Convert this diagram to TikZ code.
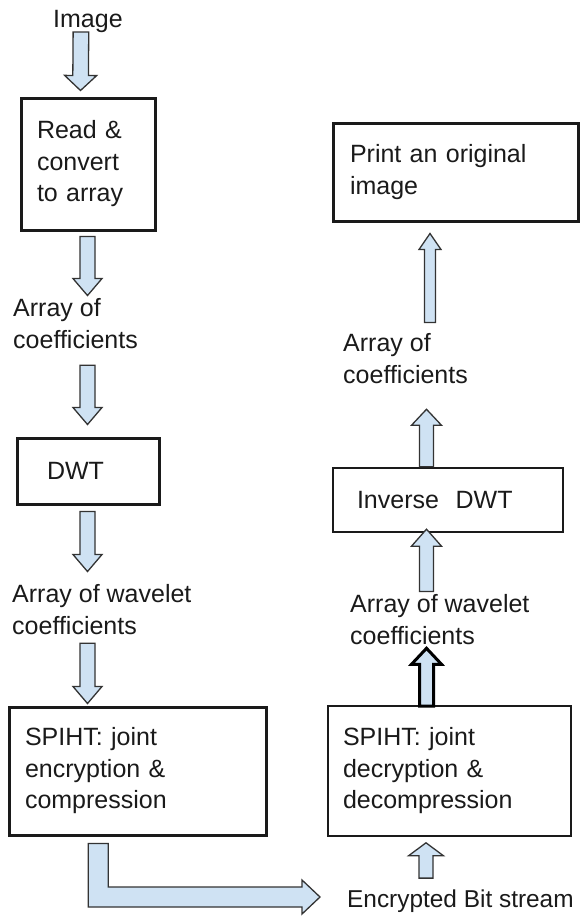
\documentclass[tikz,border=0pt]{standalone}
\usepackage{fontspec}
\setmainfont{Liberation Sans}
\usetikzlibrary{calc}
\definecolor{arrowfill}{HTML}{CFE2F3}
\definecolor{ink}{HTML}{1A1A1A}
\definecolor{arrowline}{HTML}{333333}
% block arrow: [style]{start}{tip}{shaft half width}{head half width}{head length}
\newcommand{\blockarrow}[6][]{%
  \coordinate (ba-h) at ($(#3)!#6!(#2)$);
  \draw[barrow,#1] ($(#2)!#4!90:(#3)$) -- ($(ba-h)!#4!90:(#3)$) -- ($(ba-h)!#5!90:(#3)$)
    -- (#3) -- ($(ba-h)!#5!-90:(#3)$) -- ($(ba-h)!#4!-90:(#3)$) -- ($(#2)!#4!-90:(#3)$) -- cycle;}
\begin{document}
\begin{tikzpicture}[x=1pt,y=-1pt,
  txt/.style={inner sep=0pt, font=\fontsize{25}{32}\selectfont, text=ink, align=left},
  box/.style={draw=ink, line width=3pt, rectangle, inner ysep=0pt, align=left,
              font=\fontsize{25}{31.5}\selectfont, text=ink},
  barrow/.style={draw=arrowline, fill=arrowfill, line width=1.3pt, line join=miter}]
\useasboundingbox (0,0) rectangle (579,916);

% boxes
\node[box, minimum width=134pt, minimum height=132pt, text width=102pt, inner xsep=16pt] (b1) at (88,164) {Read \&\\convert\\to array};
\node[box, minimum width=142pt, minimum height=66pt, text width=82pt, inner xsep=30pt] (dwt) at (88,471) {DWT};
\node[box, minimum width=257pt, minimum height=128pt, text width=225pt, inner xsep=16pt] (spL) at (137.5,771) {SPIHT: joint\\encryption \&\\compression};
\node[box, minimum width=245pt, minimum height=98pt, text width=211pt, inner xsep=17pt] (print) at (455.5,172) {Print an original\\image};
\node[box, line width=2.4pt, minimum width=230pt, minimum height=64pt, text width=182pt, inner xsep=24pt] (idwt) at (448,500) {Inverse~~DWT};
\node[box, line width=1.6pt, minimum width=243pt, minimum height=130pt, text width=213pt, inner xsep=15pt] (spR) at (449.5,771) {SPIHT: joint\\decryption \&\\decompression};

% free texts
\node[txt, anchor=base west] (img) at (53,27) {Image};
\node[txt, anchor=west] (L1) at (13,323.9) {Array of\\coefficients};
\node[txt, anchor=west] (L2) at (12,609.9) {Array of wavelet\\coefficients};
\node[txt, anchor=west] (R1) at (343,358.9) {Array of\\coefficients};
\node[txt, anchor=west] (R2) at (350,619.9) {Array of wavelet\\coefficients};
\node[txt, anchor=base west, font=\fontsize{24.4}{30}\selectfont] (enc) at (347,907) {Encrypted Bit stream};

% left column arrows
\coordinate (a1s) at ($(img.base)+(-7,5)$);
\coordinate (a1e) at ($(b1.north)+(-7.5,-6)$);
\blockarrow{a1s}{a1e}{7.8pt}{16pt}{15pt}
\coordinate (a2s) at ($(b1.south)+(-0.5,5)$);
\coordinate (a2e) at ($(b1.south |- L1.north)+(-0.5,-3)$);
\blockarrow{a2s}{a2e}{7.5pt}{14.5pt}{17pt}
\coordinate (a3s) at ($(b1.south |- L1.south)+(-0.5,16)$);
\coordinate (a3e) at ($(dwt.north)+(-0.5,-12)$);
\blockarrow{a3s}{a3e}{7.5pt}{14.5pt}{17pt}
\coordinate (a4s) at ($(dwt.south)+(-0.5,6)$);
\coordinate (a4e) at ($(dwt.south |- L2.north)+(-0.5,-13)$);
\blockarrow{a4s}{a4e}{7.5pt}{14.5pt}{17pt}
\coordinate (a5s) at ($(dwt.south |- L2.south)+(-0.5,8)$);
\coordinate (a5e) at ($(dwt.south |- spL.north)+(-0.5,-2)$);
\blockarrow{a5s}{a5e}{7.5pt}{14.5pt}{17pt}

% right column arrows
\coordinate (rts) at ($(print.south |- R1.north)+(-25.5,-11)$);
\coordinate (rte) at ($(print.south)+(-25.5,11)$);
\blockarrow{rts}{rte}{5.5pt}{11pt}{16pt}
\coordinate (rms) at ($(idwt.north)+(-21.5,0)$);
\coordinate (rme) at ($(idwt.north |- R1.south)+(-21.5,25)$);
\blockarrow{rms}{rme}{7pt}{15pt}{16pt}
\coordinate (rls) at ($(idwt.north |- R2.north)+(-21.5,-3)$);
\coordinate (rle) at ($(idwt.south)+(-21.5,-4)$);
\blockarrow{rls}{rle}{7pt}{15pt}{17pt}
\coordinate (tks) at ($(idwt.north |- spR.north)+(-21.5,1)$);
\coordinate (tke) at ($(idwt.north |- R2.south)+(-21.5,3)$);
\blockarrow[line width=3pt, draw=black]{tks}{tke}{7pt}{15pt}{16pt}
\coordinate (sms) at ($(idwt.north |- enc.north)+(-22,-11)$);
\coordinate (sme) at ($(idwt.north |- spR.south)+(-22,6)$);
\blockarrow{sms}{sme}{7pt}{17.5pt}{13pt}

% L-shaped arrow from encryption to bit stream
\coordinate (Ls) at ($(spL.south)+(-39.2,7)$);
\coordinate (Lt) at ($(enc.base west)+(-27,-10)$);
\draw[barrow] ($(Ls)+(-10,0)$) -- ($(Ls)+(10,0)$) -- ($(Ls |- Lt)+(10,-10)$) -- ($(Lt)+(-18,-10)$)
  -- ($(Lt)+(-18,-17)$) -- (Lt) -- ($(Lt)+(-18,17)$) -- ($(Lt)+(-18,10)$)
  -- ($(Ls |- Lt)+(-10,10)$) -- cycle;
\end{tikzpicture}
\end{document}
